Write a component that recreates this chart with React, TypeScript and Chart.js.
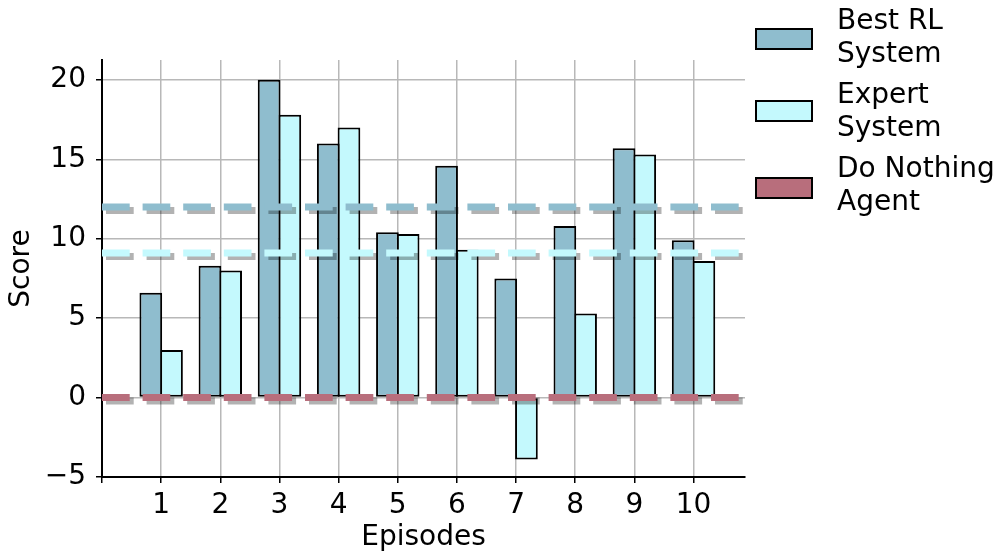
import React, { useEffect, useRef } from 'react';
import { Chart, registerables } from 'chart.js';

Chart.register(...registerables);

// ---- data ----
const episodes = [1, 2, 3, 4, 5, 6, 7, 8, 9, 10];
const bestRL = [6.6, 8.3, 20.0, 16.0, 10.4, 14.6, 7.5, 10.8, 15.7, 9.9];
const expert = [3.0, 8.0, 17.8, 17.0, 10.3, 9.3, -3.9, 5.3, 15.3, 8.6];
const bestRLAvg = 12.0;
const expertAvg = 9.1;
const doNothingScore = 0;
const xTicks = [0, 1, 2, 3, 4, 5, 6, 7, 8, 9, 10];
const yTicks = [-5, 0, 5, 10, 15, 20];
const legendLabels = [
  ['Best RL', 'System'],
  ['Expert', 'System'],
  ['Do Nothing', 'Agent'],
];

// ---- style ----
const X_MIN = 0;
const X_MAX = 10.87;
const Y_MIN = -5;
const Y_MAX = 21.25;
const BLUE = '#8fbdce';
const CYAN = '#c4f9fd';
const MAROON = '#b86e7c';
const GRID = '#b8b8b8';
const FONT = "'DejaVu Sans', sans-serif";
const DASH = [27.7, 12.9];
const legendColors = [BLUE, CYAN, MAROON];

const shadowPlugin = {
  id: 'lineShadow',
  beforeDatasetDraw(chart: any, args: any) {
    const ds = chart.data.datasets[args.index];
    if (ds.type === 'line') {
      const ctx = chart.ctx;
      ctx.save();
      ctx.shadowColor = 'rgba(0,0,0,0.3)';
      ctx.shadowOffsetX = 4;
      ctx.shadowOffsetY = 3.5;
      ctx.shadowBlur = 0;
    }
  },
  afterDatasetDraw(chart: any, args: any) {
    const ds = chart.data.datasets[args.index];
    if (ds.type === 'line') chart.ctx.restore();
  },
};

function hLine(label: string, y: number, color: string) {
  return {
    type: 'line' as const,
    label,
    data: [
      { x: X_MIN, y },
      { x: X_MAX, y },
    ],
    borderColor: color,
    backgroundColor: color,
    borderWidth: 7,
    borderDash: DASH,
    borderCapStyle: 'butt',
    pointRadius: 0,
    fill: false,
    order: 0,
  };
}

export default function App() {
  const ref = useRef<HTMLCanvasElement | null>(null);

  useEffect(() => {
    if (!ref.current) return;
    Chart.defaults.font.family = FONT;
    Chart.defaults.color = '#000';
    const chart = new Chart(ref.current, {
      type: 'bar',
      data: {
        datasets: [
          {
            type: 'bar',
            label: 'Best RL System',
            data: episodes.map((e, i) => ({ x: e, y: bestRL[i] })),
            backgroundColor: BLUE,
            borderColor: '#000',
            borderWidth: 2,
            borderSkipped: false,
            categoryPercentage: 0.7,
            barPercentage: 1.097,
            order: 2,
          },
          {
            type: 'bar',
            label: 'Expert System',
            data: episodes.map((e, i) => ({ x: e, y: expert[i] })),
            backgroundColor: CYAN,
            borderColor: '#000',
            borderWidth: 2,
            borderSkipped: false,
            categoryPercentage: 0.7,
            barPercentage: 1.097,
            order: 2,
          },
          hLine('Best RL average', bestRLAvg, BLUE),
          hLine('Expert average', expertAvg, CYAN),
          hLine('Do Nothing Agent', doNothingScore, MAROON),
        ] as any,
      },
      options: {
        responsive: false,
        animation: false,
        devicePixelRatio: 1,
        layout: { padding: { left: 0, top: 60, right: 256, bottom: 0 } },
        plugins: {
          legend: { display: false },
          tooltip: { enabled: false },
        },
        scales: {
          x: {
            type: 'linear',
            min: X_MIN,
            max: X_MAX,
            offset: false,
            grid: {
              offset: false,
              color: GRID,
              lineWidth: 1.5,
              tickColor: '#000',
              tickLength: 6,
              tickWidth: 1.5,
            },
            border: { display: true, color: '#000', width: 2 },
            ticks: {
              font: { size: 28 },
              color: '#000',
              padding: 6,
              maxRotation: 0,
              autoSkip: false,
              callback: (v: any) => (v === 0 ? '' : String(v)),
            },
            afterBuildTicks: (s: any) => {
              s.ticks = xTicks.map((v) => ({ value: v }));
            },
            afterFit: (s: any) => {
              s.height = 78;
            },
            title: {
              display: true,
              text: 'Episodes',
              font: { size: 28 },
              color: '#000',
              padding: 0,
            },
          },
          y: {
            type: 'linear',
            min: Y_MIN,
            max: Y_MAX,
            grid: {
              color: GRID,
              lineWidth: 1.5,
              tickColor: '#000',
              tickLength: 6,
              tickWidth: 1.5,
            },
            border: { display: true, color: '#000', width: 2 },
            ticks: {
              font: { size: 28 },
              color: '#000',
              padding: 10,
              autoSkip: false,
              callback: (v: any) => (v < 0 ? '\u2212' + Math.abs(v) : String(v)),
            },
            afterBuildTicks: (s: any) => {
              s.ticks = yTicks.map((v) => ({ value: v }));
            },
            afterFit: (s: any) => {
              s.width = 102;
            },
            title: {
              display: true,
              text: 'Score',
              font: { size: 28 },
              color: '#000',
              padding: { top: 5, bottom: 0 },
            },
          },
        },
      } as any,
      plugins: [shadowPlugin],
    });
    return () => chart.destroy();
  }, []);

  const boxTops = [28, 100, 177];
  const textTops = [3, 77, 151];

  return (
    <div
      style={{
        position: 'fixed',
        left: 0,
        top: 0,
        width: 1001,
        height: 555,
        background: '#fff',
        fontFamily: FONT,
      }}
    >
      <canvas ref={ref} width={1001} height={555} style={{ display: 'block', width: 1001, height: 555 }} />
      {legendLabels.map((lines, i) => (
        <React.Fragment key={i}>
          <div
            style={{
              position: 'absolute',
              left: 755,
              top: boxTops[i],
              width: 58,
              height: 22,
              boxSizing: 'border-box',
              border: '2px solid #000',
              background: legendColors[i],
            }}
          />
          <div
            style={{
              position: 'absolute',
              left: 837,
              top: textTops[i],
              fontSize: 28,
              lineHeight: '33px',
              color: '#000',
              whiteSpace: 'nowrap',
            }}
          >
            {lines.map((l, j) => (
              <div key={j}>{l}</div>
            ))}
          </div>
        </React.Fragment>
      ))}
    </div>
  );
}
